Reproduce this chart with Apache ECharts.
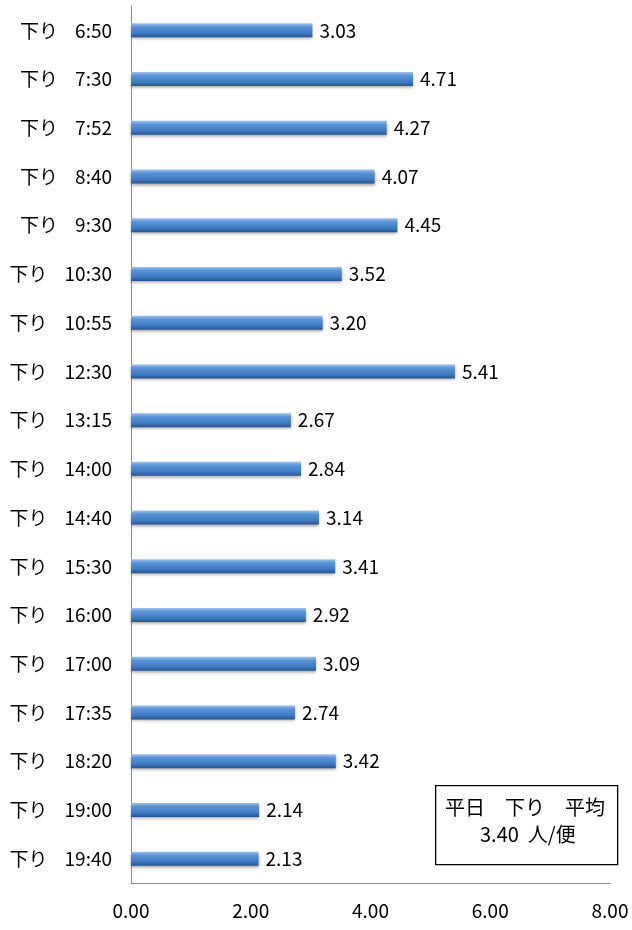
<!DOCTYPE html>
<html>
<head>
<meta charset="utf-8">
<script src="https://cdn.jsdelivr.net/npm/echarts@6/dist/echarts.min.js"></script>
<style>
  html, body { margin: 0; padding: 0; background: #fff; }
  #chart { width: 632px; height: 930px; }
</style>
</head>
<body>
<div id="chart"></div>
<script>
const categories = [
  '下り    6:50', '下り    7:30', '下り    7:52', '下り    8:40', '下り    9:30',
  '下り    10:30', '下り    10:55', '下り    12:30', '下り    13:15', '下り    14:00',
  '下り    14:40', '下り    15:30', '下り    16:00', '下り    17:00', '下り    17:35',
  '下り    18:20', '下り    19:00', '下り    19:40'
]
const values = [
  3.03, 4.71, 4.27, 4.07, 4.45, 3.52, 3.20, 5.41, 2.67, 2.84,
  3.14, 3.41, 2.92, 3.09, 2.74, 3.42, 2.14, 2.13
]
const noteLines = ['平日　下り　平均', '3.40  人/便']

const font = '"Noto Sans CJK JP", "Noto Sans", sans-serif'
const chart = echarts.init(document.getElementById('chart'))

chart.setOption({
  animation: false,
  grid: { left: 131, right: 22, top: 6, bottom: 47 },
  xAxis: {
    type: 'value',
    min: 0,
    max: 8,
    interval: 2,
    splitLine: { show: false },
    axisLine: { show: true, lineStyle: { color: '#8c8c8c', width: 1 } },
    axisTick: { show: false },
    axisLabel: {
      formatter: (v) => v.toFixed(2),
      color: '#000',
      fontSize: 19,
      fontFamily: font,
      margin: 18
    }
  },
  yAxis: {
    type: 'category',
    inverse: true,
    data: categories,
    axisLine: { show: true, lineStyle: { color: '#8c8c8c', width: 1 } },
    axisTick: { show: false },
    axisLabel: {
      color: '#000',
      fontSize: 19,
      fontFamily: font,
      margin: 19
    }
  },
  series: [{
    type: 'bar',
    data: values,
    barWidth: 14,
    itemStyle: {
      color: new echarts.graphic.LinearGradient(0, 0, 0, 1, [
        { offset: 0, color: '#9cc3ee' },
        { offset: 0.25, color: '#5b93d6' },
        { offset: 0.7, color: '#3f7bc4' },
        { offset: 1, color: '#25548f' }
      ]),
      shadowColor: 'rgba(0,0,0,0.35)',
      shadowBlur: 3,
      shadowOffsetY: 2
    },
    label: {
      show: true,
      position: 'right',
      distance: 7,
      formatter: (p) => p.value.toFixed(2),
      color: '#000',
      fontSize: 19,
      fontFamily: font
    }
  }],
  graphic: [
    {
      type: 'rect',
      left: 435,
      top: 785,
      shape: { width: 182, height: 79 },
      style: { fill: '#fff', stroke: '#000', lineWidth: 1.3 }
    },
    {
      type: 'text',
      left: 445,
      top: 797,
      style: { text: noteLines[0], fill: '#000', fontSize: 20, fontFamily: font }
    },
    {
      type: 'text',
      left: 480,
      top: 824,
      style: { text: noteLines[1], fill: '#000', fontSize: 20, fontFamily: font }
    }
  ]
})
</script>
</body>
</html>
